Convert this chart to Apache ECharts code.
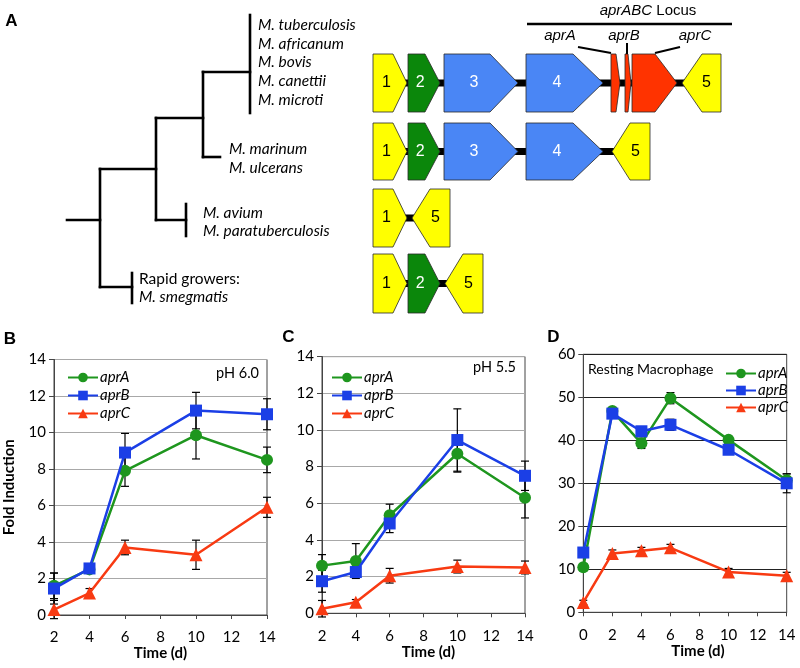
<!DOCTYPE html>
<html><head><meta charset="utf-8">
<script src="https://cdn.jsdelivr.net/npm/echarts@6/dist/echarts.min.js"></script>
<style>html,body{margin:0;padding:0;background:#fff}#c{width:800px;height:668px}</style>
</head><body><div id="c"></div><script>
// ================= DATA =================
// Panel B (pH 6.0)
const timesB = [2, 4, 6, 10, 14];
const aprA_B = [1.6, 2.5, 7.9, 9.85, 8.5];
const aprA_B_err = [0.7, 0.2, 0.85, 1.3, 0.7];
const aprB_B = [1.45, 2.55, 8.9, 11.2, 11.0];
const aprB_B_err = [0.85, 0.25, 1.05, 1.0, 0.85];
const aprC_B = [0.3, 1.2, 3.7, 3.3, 5.9];
const aprC_B_err = [0.5, 0.25, 0.4, 0.8, 0.55];
// Panel C (pH 5.5)
const timesC = [2, 4, 6, 10, 14];
const aprA_C = [2.6, 2.85, 5.35, 8.7, 6.3];
const aprA_C_err = [0.6, 0.95, 0.6, 1.0, 1.1];
const aprB_C = [1.75, 2.25, 4.9, 9.45, 7.5];
const aprB_C_err = [0.6, 0.3, 0.5, 1.7, 0.8];
const aprC_C = [0.25, 0.6, 2.05, 2.55, 2.5];
const aprC_C_err = [0.45, 0.15, 0.4, 0.35, 0.35];
// Panel D (Resting Macrophage)
const timesD = [0, 2, 4, 6, 10, 14];
const aprA_D = [10.5, 46.8, 39.3, 49.8, 40.1, 30.7];
const aprA_D_err = [0.8, 0.8, 1.2, 1.3, 0.8, 1.5];
const aprB_D = [13.9, 46.2, 42.1, 43.6, 37.8, 30.0];
const aprB_D_err = [0.8, 1.0, 0.8, 1.3, 0.8, 2.2];
const aprC_D = [2.3, 13.7, 14.3, 15.0, 9.4, 8.5];
const aprC_D_err = [0.5, 0.8, 0.8, 0.8, 0.8, 0.8];
const seriesNames = ['aprA', 'aprB', 'aprC'];

// Panel A: phylogenetic tree (diagram units)
const treeLines = [
  [67, 220, 100, 220], [100, 169, 100, 287], [100, 169, 156, 169],
  [100, 287, 132, 287], [132, 273, 132, 303], [156, 118, 156, 220],
  [156, 118, 203, 118], [156, 220, 186, 220], [186, 204, 186, 236],
  [203, 72, 203, 157], [203, 72, 250, 72], [203, 157, 220, 157],
  [250, 15, 250, 113]
];
const speciesLabels = [
  ['M. tuberculosis', 258, 25, 1], ['M. africanum', 258, 43.5, 1], ['M. bovis', 258, 62, 1],
  ['M. canettii', 258, 81, 1], ['M. microti', 258, 99.5, 1],
  ['M. marinum', 229, 149, 1], ['M. ulcerans', 229, 167.5, 1],
  ['M. avium', 203, 212.5, 1], ['M. paratuberculosis', 203, 231, 1],
  ['Rapid growers:', 139, 278.5, 0], ['M. smegmatis', 139, 297, 1]
];
// gene rows: [centre y, half height, backbone start, backbone end]
const geneRows = [[83, 29, 373, 721], [151.5, 28.5, 373, 650], [218, 29, 373, 450], [283.5, 29.5, 373, 483]];
// genes: [row, left, right, head length, direction, type, label]
const genes = [
  [0, 373, 407, 14, 1, 'y', '1'], [0, 408, 440, 15, 1, 'g', '2'], [0, 444, 518, 28, 1, 'b', '3'],
  [0, 526, 603, 30, 1, 'b', '4'], [0, 611, 620, 4, 1, 'r', ''], [0, 625, 631, 3, 1, 'r', ''],
  [0, 632, 677, 22, 1, 'r', ''], [0, 682, 721, 20, -1, 'y', '5'],
  [1, 373, 407, 14, 1, 'y', '1'], [1, 408, 440, 15, 1, 'g', '2'], [1, 444, 518, 28, 1, 'b', '3'],
  [1, 526, 603, 30, 1, 'b', '4'], [1, 612, 650, 18, -1, 'y', '5'],
  [2, 373, 407, 14, 1, 'y', '1'], [2, 412, 450, 18, -1, 'y', '5'],
  [3, 373, 407, 14, 1, 'y', '1'], [3, 408, 440, 15, 1, 'g', '2'], [3, 445, 483, 18, -1, 'y', '5']
];
const locusLines = [[527, 24, 732, 24], [578, 47, 611, 53], [627, 43, 627, 54], [680, 47, 655, 53]];
const locusLabels = [['aprA', 560, 36], ['aprB', 624, 36], ['aprC', 695, 36]];

// ================= STYLE =================
const COL = { aprA: '#1e961e', aprB: '#1b3fe6', aprC: '#f83a12' };
const SYM = { aprA: 'circle', aprB: 'rect', aprC: 'triangle' };
const SYMSIZE = { aprA: 12, aprB: 12, aprC: 13 };
const GENECOL = { y: '#ffff00', g: '#0b870b', b: '#4a86f5', r: '#ff3300' };
const GENETXT = { y: '#000', g: '#fff', b: '#fff', r: '#fff' };
const FONT = 'Lato, "Open Sans", sans-serif';

const chart = echarts.init(document.getElementById('c'), null, { renderer: 'canvas' });

function errItem(params, api) {
  const x = api.value(0), lo = api.value(1), hi = api.value(2);
  const p1 = api.coord([x, lo]), p2 = api.coord([x, hi]);
  const w = 4;
  const st = { stroke: '#000', lineWidth: 1.2 };
  return { type: 'group', children: [
    { type: 'line', shape: { x1: p1[0], y1: p1[1], x2: p2[0], y2: p2[1] }, style: st },
    { type: 'line', shape: { x1: p1[0] - w, y1: p1[1], x2: p1[0] + w, y2: p1[1] }, style: st },
    { type: 'line', shape: { x1: p2[0] - w, y1: p2[1], x2: p2[0] + w, y2: p2[1] }, style: st }
  ] };
}

const series = [];
function addPanel(g, times, vals, errs) {
  seriesNames.forEach((n, k) => {
    series.push({
      type: 'custom', name: n + '_err' + g, xAxisIndex: g, yAxisIndex: g, z: 2,
      renderItem: errItem, encode: { x: 0, y: [1, 2] },
      data: times.map((t, i) => [t, vals[k][i] - errs[k][i], vals[k][i] + errs[k][i]]),
      silent: true
    });
  });
  seriesNames.forEach((n, k) => {
    series.push({
      type: 'line', name: n, xAxisIndex: g, yAxisIndex: g, z: 3 + k,
      data: times.map((t, i) => [t, vals[k][i]]),
      symbol: SYM[n], symbolSize: SYMSIZE[n], showSymbol: true,
      itemStyle: { color: COL[n] }, lineStyle: { color: COL[n], width: 2.5 },
      animation: false
    });
  });
}
addPanel(0, timesB, [aprA_B, aprB_B, aprC_B], [aprA_B_err, aprB_B_err, aprC_B_err]);
addPanel(1, timesC, [aprA_C, aprB_C, aprC_C], [aprA_C_err, aprB_C_err, aprC_C_err]);
addPanel(2, timesD, [aprA_D, aprB_D, aprC_D], [aprA_D_err, aprB_D_err, aprC_D_err]);

// ---------- Panel A diagram series (grid 3) ----------
series.push({
  type: 'custom', name: 'backbone', xAxisIndex: 3, yAxisIndex: 3, z: 1, silent: true,
  data: geneRows.map(r => [r[2], r[0], r[3]]),
  renderItem: (params, api) => {
    const r = geneRows[params.dataIndex];
    const a = api.coord([r[2], r[0]]), b = api.coord([r[3], r[0]]);
    return { type: 'line', shape: { x1: a[0], y1: a[1], x2: b[0], y2: b[1] }, style: { stroke: '#000', lineWidth: 7 } };
  }
});
series.push({
  type: 'custom', name: 'genes', xAxisIndex: 3, yAxisIndex: 3, z: 2, silent: true,
  data: genes.map(g => [g[1], geneRows[g[0]][0]]),
  renderItem: (params, api) => {
    const [row, left, right, head, dir, type, label] = genes[params.dataIndex];
    const cy = geneRows[row][0], h = geneRows[row][1];
    const pts = dir > 0
      ? [[left, cy - h], [right - head, cy - h], [right, cy], [right - head, cy + h], [left, cy + h]]
      : [[left, cy], [left + head, cy - h], [right, cy - h], [right, cy + h], [left + head, cy + h]];
    const pp = pts.map(p => api.coord(p));
    const lx = dir > 0 ? left + (right - left - head / 2) / 2 : right - (right - left - head / 2) / 2;
    const lp = api.coord([lx, cy]);
    const children = [{ type: 'polygon', shape: { points: pp }, style: { fill: GENECOL[type], stroke: 'rgba(40,40,40,0.8)', lineWidth: 1 } }];
    if (label) children.push({ type: 'text', style: { text: label, x: lp[0], y: lp[1], align: 'center', verticalAlign: 'middle', fill: GENETXT[type], font: '16px "Liberation Sans", Arial, sans-serif' } });
    return { type: 'group', children };
  }
});
series.push({
  type: 'custom', name: 'tree', xAxisIndex: 3, yAxisIndex: 3, z: 2, silent: true,
  data: treeLines.map(l => [l[0], l[1]]),
  renderItem: (params, api) => {
    const l = treeLines[params.dataIndex];
    const a = api.coord([l[0], l[1]]), b = api.coord([l[2], l[3]]);
    return { type: 'line', shape: { x1: a[0], y1: a[1], x2: b[0], y2: b[1] }, style: { stroke: '#000', lineWidth: 2.6, lineCap: 'square' } };
  }
});
series.push({
  type: 'custom', name: 'locus', xAxisIndex: 3, yAxisIndex: 3, z: 2, silent: true,
  data: locusLines.map(l => [l[0], l[1]]),
  renderItem: (params, api) => {
    const l = locusLines[params.dataIndex];
    const a = api.coord([l[0], l[1]]), b = api.coord([l[2], l[3]]);
    return { type: 'line', shape: { x1: a[0], y1: a[1], x2: b[0], y2: b[1] }, style: { stroke: '#000', lineWidth: params.dataIndex === 0 ? 2.6 : 2 } };
  }
});
series.push({
  type: 'custom', name: 'species', xAxisIndex: 3, yAxisIndex: 3, z: 2, silent: true,
  data: speciesLabels.map(s => [s[1], s[2]]),
  renderItem: (params, api) => {
    const s = speciesLabels[params.dataIndex];
    const p = api.coord([s[1], s[2]]);
    return { type: 'text', style: { text: s[0], x: p[0], y: p[1], align: 'left', verticalAlign: 'middle', fill: '#000', font: (s[3] ? 'italic ' : '') + '15.5px ' + FONT } };
  }
});
series.push({
  type: 'custom', name: 'locusLabels', xAxisIndex: 3, yAxisIndex: 3, z: 2, silent: true,
  data: locusLabels.map(s => [s[1], s[2]]),
  renderItem: (params, api) => {
    const s = locusLabels[params.dataIndex];
    const p = api.coord([s[1], s[2]]);
    return { type: 'text', style: { text: s[0], x: p[0], y: p[1], align: 'center', verticalAlign: 'middle', fill: '#000', font: 'italic 15px "Liberation Sans", Arial, sans-serif' } };
  }
});

// ---------- axes ----------
function xAx(g, min, nameShift) {
  return {
    type: 'value', gridIndex: g, min: min, max: 14, interval: 2,
    axisLine: { show: true, lineStyle: { color: '#444', width: 1 } },
    axisTick: { show: true, length: 4, lineStyle: { color: '#444' } },
    axisLabel: { fontSize: 15, color: '#000', margin: 15, fontFamily: FONT },
    splitLine: { show: false },
    name: 'Time (d)', nameLocation: 'middle', nameGap: 31,
    nameTextStyle: { fontWeight: 'bold', fontSize: 15, color: '#000', fontFamily: FONT, padding: [0, 0, 0, nameShift] }
  };
}
function yAx(g, max, interval, gridColor, withName) {
  const a = {
    type: 'value', gridIndex: g, min: 0, max: max, interval: interval,
    axisLine: { show: true, lineStyle: { color: '#444', width: 1 } },
    axisTick: { show: true, length: 5, lineStyle: { color: '#444' } },
    axisLabel: { fontSize: 15, color: '#000', margin: 8, fontFamily: FONT },
    splitLine: { show: true, lineStyle: { color: gridColor, width: 1 } }
  };
  if (withName) {
    a.name = 'Fold Induction'; a.nameLocation = 'middle'; a.nameGap = 37; a.nameRotate = 90;
    a.nameTextStyle = { fontWeight: 'bold', fontSize: 15, color: '#000', fontFamily: FONT };
  }
  return a;
}

function legendAt(left, top, gap) {
  return {
    data: seriesNames, orient: 'vertical', left: left, top: top, itemGap: gap,
    itemWidth: 30, itemHeight: 12, selectedMode: false,
    textStyle: { fontStyle: 'italic', fontSize: 15, color: '#000', fontFamily: FONT, padding: [0, 0, 0, -3] }
  };
}

const option = {
  animation: false,
  backgroundColor: '#fff',
  grid: [
    { left: 54, top: 359.5, width: 213, height: 255.5, show: true, borderColor: '#444', borderWidth: 1 },
    { left: 322, top: 356.6, width: 203, height: 256.7, show: true, borderColor: '#444', borderWidth: 1 },
    { left: 583.3, top: 354.3, width: 203.4, height: 258, show: true, borderColor: '#444', borderWidth: 1 },
    { left: 0, top: 0, width: 800, height: 330, show: false }
  ],
  xAxis: [xAx(0, 2, 0), xAx(1, 2, 10), xAx(2, 0, 26),
    { type: 'value', gridIndex: 3, min: 0, max: 800, show: false }],
  yAxis: [yAx(0, 14, 2, '#a8a8a8', true), yAx(1, 14, 2, '#a8a8a8', false), yAx(2, 60, 10, '#222', false),
    { type: 'value', gridIndex: 3, min: 0, max: 330, inverse: true, show: false }],
  legend: [legendAt(62, 365, 3), legendAt(326, 365, 3), legendAt(720, 361, 2)],
  graphic: [
    { type: 'text', x: 11.5, y: 21, style: { text: 'A', align: 'center', verticalAlign: 'middle', font: 'bold 17px "Liberation Sans", Arial, sans-serif', fill: '#000' } },
    { type: 'text', x: 10, y: 339, style: { text: 'B', align: 'center', verticalAlign: 'middle', font: 'bold 17px "Liberation Sans", Arial, sans-serif', fill: '#000' } },
    { type: 'text', x: 288.5, y: 337.5, style: { text: 'C', align: 'center', verticalAlign: 'middle', font: 'bold 17px "Liberation Sans", Arial, sans-serif', fill: '#000' } },
    { type: 'text', x: 553.5, y: 337.5, style: { text: 'D', align: 'center', verticalAlign: 'middle', font: 'bold 17px "Liberation Sans", Arial, sans-serif', fill: '#000' } },
    { type: 'text', x: 648, y: 11, style: { text: '{i|aprABC} Locus', align: 'center', verticalAlign: 'middle', font: '15px "Liberation Sans", Arial, sans-serif', fill: '#000', rich: { i: { fontStyle: 'italic', fontSize: 15, fontFamily: '"Liberation Sans", Arial, sans-serif' } } } },
    { type: 'text', x: 259, y: 373, style: { text: 'pH 6.0', align: 'right', verticalAlign: 'middle', font: '14.5px ' + FONT, fill: '#000' } },
    { type: 'text', x: 516, y: 367, style: { text: 'pH 5.5', align: 'right', verticalAlign: 'middle', font: '14.5px ' + FONT, fill: '#000' } },
    { type: 'text', x: 588, y: 369, style: { text: 'Resting Macrophage', align: 'left', verticalAlign: 'middle', font: '14px ' + FONT, fill: '#000' } }
  ],
  series: series
};
chart.setOption(option);
</script></body></html>
